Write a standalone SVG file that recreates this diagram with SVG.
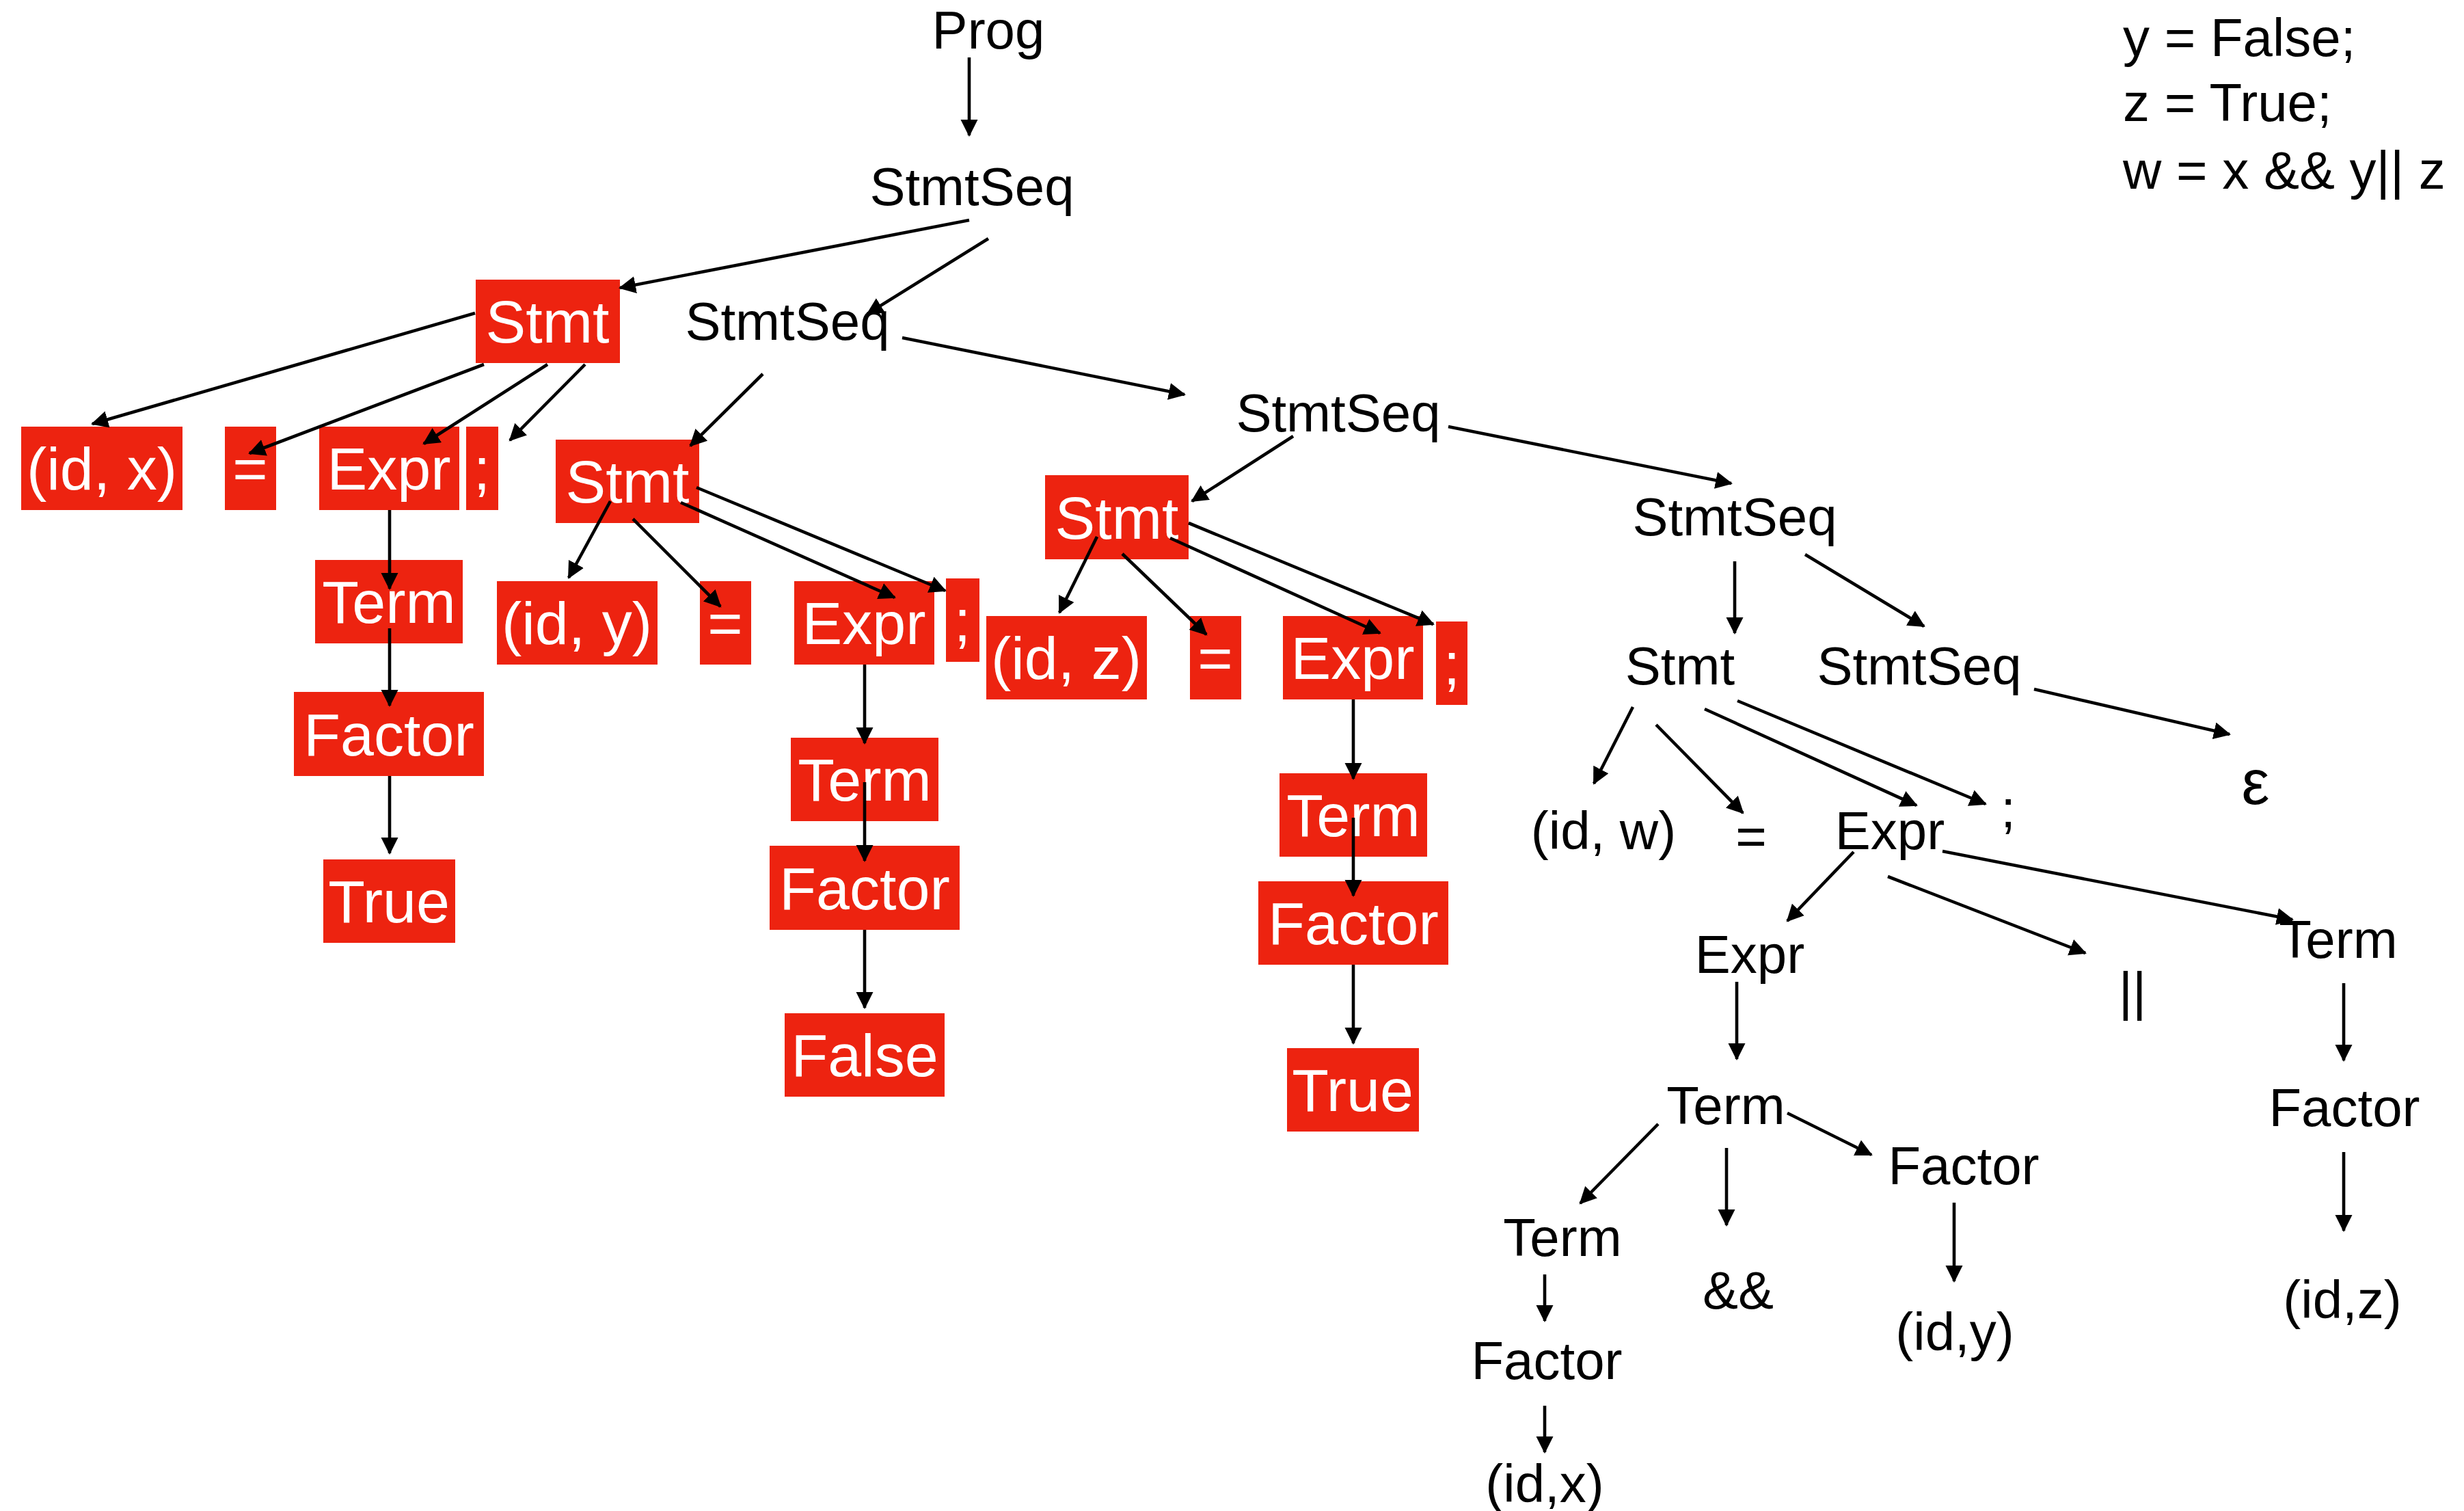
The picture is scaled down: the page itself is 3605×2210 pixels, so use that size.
<svg xmlns="http://www.w3.org/2000/svg" width="3605" height="2210" viewBox="0 0 3605 2210">
<style>
.t{font-family:"Liberation Sans",Arial,sans-serif;font-size:78px;fill:#000;text-anchor:middle}
.code{font-family:"Liberation Sans",Arial,sans-serif;font-size:78px;fill:#000}
.box rect{fill:#ED2310}
.box text{font-family:"Liberation Sans",Arial,sans-serif;font-size:88px;fill:#fff;text-anchor:middle}
.c line{stroke:#000;stroke-width:4.6;fill:none;marker-end:url(#ah)}
</style>
<defs>
<marker id="ah" markerUnits="userSpaceOnUse" markerWidth="26" markerHeight="26" refX="23" refY="12.5" orient="auto">
<path d="M0,0 L25,12.5 L0,25 Z" fill="#000"/>
</marker>
</defs>
<rect width="3605" height="2210" fill="#fff"/>
<g id="code">
<text class="code" x="3106" y="82">y = False;</text>
<text class="code" x="3106" y="177">z = True;</text>
<text class="code" x="3106" y="276">w = x &amp;&amp; y|| z</text>
</g>
<g id="prog"><text class="t" x="1446" y="71">Prog</text></g>
<g id="stmtseq1"><text class="t" x="1422" y="300">StmtSeq</text></g>
<g id="stmtseq2"><text class="t" x="1152" y="497">StmtSeq</text></g>
<g id="stmtseq3"><text class="t" x="1958" y="631">StmtSeq</text></g>
<g id="stmtseq4"><text class="t" x="2538" y="783">StmtSeq</text></g>
<g id="stmt4"><text class="t" x="2458" y="1001">Stmt</text></g>
<g id="stmtseq5"><text class="t" x="2808" y="1001">StmtSeq</text></g>
<g id="epsilon"><text class="t" x="3300" y="1176" style="font-size:92px">ε</text></g>
<g id="idw"><text class="t" x="2346" y="1242">(id, w)</text></g>
<g id="eq4"><text class="t" x="2562" y="1250">=</text></g>
<g id="expr4"><text class="t" x="2765" y="1242">Expr</text></g>
<g id="semi4"><text class="t" x="2938" y="1210">;</text></g>
<g id="expr5"><text class="t" x="2560" y="1423">Expr</text></g>
<g id="or"><text class="t" x="3120" y="1477">||</text></g>
<g id="term5"><text class="t" x="3421" y="1401">Term</text></g>
<g id="term6"><text class="t" x="2525" y="1644">Term</text></g>
<g id="factor6"><text class="t" x="3430" y="1647">Factor</text></g>
<g id="term7"><text class="t" x="2286" y="1837">Term</text></g>
<g id="and"><text class="t" x="2543" y="1914">&amp;&amp;</text></g>
<g id="factor7"><text class="t" x="2873" y="1732">Factor</text></g>
<g id="idy2"><text class="t" x="2860" y="1975">(id,y)</text></g>
<g id="idz2"><text class="t" x="3427" y="1928">(id,z)</text></g>
<g id="factor8"><text class="t" x="2263" y="2017">Factor</text></g>
<g id="idx2"><text class="t" x="2260" y="2197">(id,x)</text></g>
<g id="stmt1" class="box"><rect x="696" y="409" width="211" height="122"/><text x="801" y="501">Stmt</text></g>
<g id="idx" class="box"><rect x="31" y="624" width="236" height="122"/><text x="149" y="716">(id, x)</text></g>
<g id="eq1" class="box"><rect x="329" y="624" width="75" height="122"/><text x="366" y="716">=</text></g>
<g id="expr1" class="box"><rect x="467" y="624" width="205" height="122"/><text x="569" y="716">Expr</text></g>
<g id="semi1" class="box"><rect x="682" y="624" width="47" height="122"/><text x="705" y="716">;</text></g>
<g id="term1" class="box"><rect x="461" y="819" width="216" height="122"/><text x="569" y="911">Term</text></g>
<g id="factor1" class="box"><rect x="430" y="1012" width="278" height="123"/><text x="569" y="1105">Factor</text></g>
<g id="true1" class="box"><rect x="473" y="1257" width="193" height="122"/><text x="569" y="1349">True</text></g>
<g id="stmt2" class="box"><rect x="813" y="643" width="210" height="122"/><text x="918" y="735">Stmt</text></g>
<g id="idy" class="box"><rect x="727" y="850" width="235" height="122"/><text x="844" y="942">(id, y)</text></g>
<g id="eq2" class="box"><rect x="1024" y="850" width="75" height="122"/><text x="1061" y="942">=</text></g>
<g id="expr2" class="box"><rect x="1162" y="850" width="205" height="122"/><text x="1264" y="942">Expr</text></g>
<g id="semi2" class="box"><rect x="1384" y="846" width="49" height="122"/><text x="1408" y="938">;</text></g>
<g id="term2" class="box"><rect x="1157" y="1079" width="216" height="122"/><text x="1265" y="1171">Term</text></g>
<g id="factor2" class="box"><rect x="1126" y="1237" width="278" height="123"/><text x="1265" y="1330">Factor</text></g>
<g id="false2" class="box"><rect x="1148" y="1482" width="234" height="122"/><text x="1265" y="1574">False</text></g>
<g id="stmt3" class="box"><rect x="1529" y="695" width="210" height="123"/><text x="1634" y="788">Stmt</text></g>
<g id="idz" class="box"><rect x="1443" y="901" width="235" height="122"/><text x="1560" y="993">(id, z)</text></g>
<g id="eq3" class="box"><rect x="1741" y="901" width="75" height="122"/><text x="1778" y="993">=</text></g>
<g id="expr3" class="box"><rect x="1877" y="901" width="205" height="122"/><text x="1979" y="993">Expr</text></g>
<g id="semi3" class="box"><rect x="2101" y="909" width="46" height="122"/><text x="2124" y="1001">;</text></g>
<g id="term3" class="box"><rect x="1872" y="1131" width="216" height="122"/><text x="1980" y="1223">Term</text></g>
<g id="factor3" class="box"><rect x="1841" y="1289" width="278" height="122"/><text x="1980" y="1381">Factor</text></g>
<g id="true3" class="box"><rect x="1883" y="1533" width="193" height="122"/><text x="1979" y="1625">True</text></g>
<g id="connectors" class="c">
<line x1="1418" y1="84" x2="1418" y2="198"/>
<line x1="1418" y1="322" x2="907" y2="421"/>
<line x1="1446" y1="349" x2="1269" y2="459"/>
<line x1="695" y1="458" x2="135" y2="620"/>
<line x1="708" y1="533" x2="365" y2="663"/>
<line x1="801" y1="533" x2="620" y2="649"/>
<line x1="856" y1="533" x2="746" y2="644"/>
<line x1="570" y1="746" x2="570" y2="861"/>
<line x1="570" y1="919" x2="570" y2="1032"/>
<line x1="570" y1="1135" x2="570" y2="1248"/>
<line x1="1116" y1="547" x2="1010" y2="652"/>
<line x1="1320" y1="494" x2="1733" y2="577"/>
<line x1="893" y1="733" x2="832" y2="845"/>
<line x1="926" y1="759" x2="1054" y2="887"/>
<line x1="996" y1="735" x2="1309" y2="874"/>
<line x1="1019" y1="713" x2="1383" y2="864"/>
<line x1="1265" y1="972" x2="1265" y2="1087"/>
<line x1="1265" y1="1144" x2="1265" y2="1259"/>
<line x1="1265" y1="1360" x2="1265" y2="1474"/>
<line x1="1892" y1="638" x2="1744" y2="733"/>
<line x1="2119" y1="624" x2="2533" y2="707"/>
<line x1="1605" y1="785" x2="1550" y2="896"/>
<line x1="1642" y1="810" x2="1765" y2="928"/>
<line x1="1712" y1="787" x2="2019" y2="926"/>
<line x1="1739" y1="765" x2="2097" y2="913"/>
<line x1="1980" y1="1023" x2="1980" y2="1139"/>
<line x1="1980" y1="1196" x2="1980" y2="1310"/>
<line x1="1980" y1="1411" x2="1980" y2="1526"/>
<line x1="2538" y1="821" x2="2538" y2="926"/>
<line x1="2641" y1="811" x2="2815" y2="916"/>
<line x1="2976" y1="1008" x2="3262" y2="1074"/>
<line x1="2389" y1="1034" x2="2332" y2="1146"/>
<line x1="2423" y1="1060" x2="2550" y2="1189"/>
<line x1="2494" y1="1037" x2="2804" y2="1178"/>
<line x1="2542" y1="1025" x2="2905" y2="1176"/>
<line x1="2712" y1="1246" x2="2615" y2="1347"/>
<line x1="2762" y1="1282" x2="3051" y2="1394"/>
<line x1="2842" y1="1245" x2="3354" y2="1345"/>
<line x1="2541" y1="1436" x2="2541" y2="1549"/>
<line x1="3429" y1="1438" x2="3429" y2="1551"/>
<line x1="2426" y1="1644" x2="2312" y2="1760"/>
<line x1="2526" y1="1679" x2="2526" y2="1792"/>
<line x1="2615" y1="1628" x2="2738" y2="1689"/>
<line x1="2859" y1="1759" x2="2859" y2="1874"/>
<line x1="3429" y1="1685" x2="3429" y2="1800"/>
<line x1="2260" y1="1864" x2="2260" y2="1932"/>
<line x1="2260" y1="2056" x2="2260" y2="2124"/>
</g>
</svg>
